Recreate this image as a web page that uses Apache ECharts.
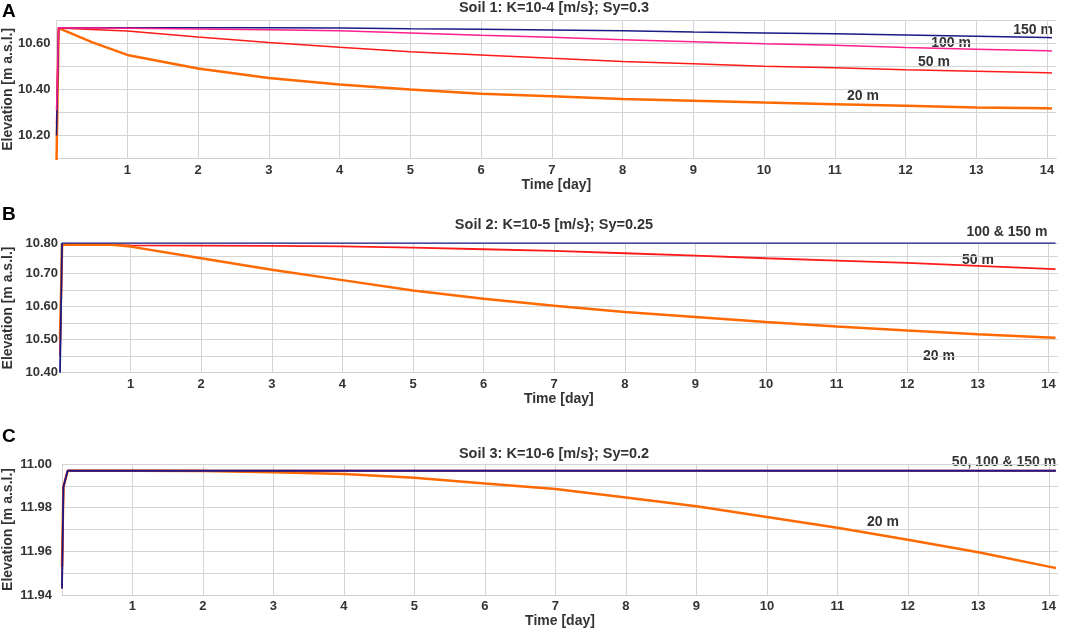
<!DOCTYPE html>
<html>
<head>
<meta charset="utf-8">
<title>Soil drawdown</title>
<script src="https://cdn.jsdelivr.net/npm/echarts@6/dist/echarts.min.js"></script>
<style>
html,body{margin:0;padding:0;background:#fff;}
#main{width:1065px;height:628px;}
</style>
</head>
<body>
<div id="main"></div>
<script>
// tick labels
var xTickLabels = ['', '1', '2', '3', '4', '5', '6', '7', '8', '9', '10', '11', '12', '13', '14'];
var yLabelsA = ['', '10.20', '', '10.40', '', '10.60', ''];
var yLabelsB = ['10.40', '', '10.50', '', '10.60', '', '10.70', '', '10.80'];
var yLabelsC = ['11.94', '', '11.96', '', '11.98', '', '11.00'];

// Soil 1
var timeA = [0, 0.03, 0.5, 1, 2, 3, 4, 5, 6, 7, 8, 9, 10, 11, 12, 13, 14, 14.07];
var a20 = [10.08, 10.665, 10.604, 10.549, 10.490, 10.449, 10.421, 10.399, 10.381, 10.370, 10.358, 10.351, 10.343, 10.336, 10.329, 10.322, 10.318, 10.317];
var a50 = [10.25, 10.665, 10.659, 10.652, 10.626, 10.603, 10.582, 10.563, 10.549, 10.534, 10.521, 10.511, 10.500, 10.493, 10.485, 10.478, 10.472, 10.471];
var a100 = [10.31, 10.666, 10.665, 10.664, 10.661, 10.658, 10.654, 10.644, 10.634, 10.625, 10.615, 10.606, 10.597, 10.591, 10.581, 10.574, 10.567, 10.566];
var a150 = [10.20, 10.667, 10.667, 10.667, 10.667, 10.666, 10.665, 10.662, 10.660, 10.657, 10.653, 10.648, 10.644, 10.640, 10.635, 10.630, 10.624, 10.623];

// Soil 2
var timeB = [0, 0.03, 0.7, 1, 2, 3, 4, 5, 6, 7, 8, 9, 10, 11, 12, 13, 14, 14.1];
var b20 = [10.50, 10.786, 10.786, 10.780, 10.745, 10.710, 10.679, 10.648, 10.623, 10.602, 10.583, 10.568, 10.553, 10.539, 10.527, 10.516, 10.506, 10.505];
var b50 = [10.45, 10.786, 10.785, 10.784, 10.783, 10.782, 10.781, 10.777, 10.772, 10.767, 10.760, 10.753, 10.745, 10.738, 10.731, 10.722, 10.713, 10.712];
var b150 = [10.40, 10.791, 10.791, 10.791, 10.791, 10.791, 10.791, 10.791, 10.791, 10.791, 10.791, 10.791, 10.791, 10.791, 10.791, 10.791, 10.791, 10.791];

// Soil 3
var timeC = [0, 0.02, 0.08, 1, 2, 3, 4, 5, 6, 7, 8, 9, 10, 11, 12, 13, 14, 14.1];
var c20 = [11.953, 11.9895, 11.9969, 11.9969, 11.9968, 11.9962, 11.9954, 11.9937, 11.9911, 11.9886, 11.9847, 11.9806, 11.9757, 11.9708, 11.9653, 11.9596, 11.9530, 11.9524];
var c150 = [11.943, 11.9895, 11.9969, 11.9969, 11.9969, 11.9969, 11.9969, 11.9969, 11.9969, 11.9969, 11.9969, 11.9969, 11.9969, 11.9969, 11.9969, 11.9969, 11.9969, 11.9969];

var NAVY = '#1b1b86', PINK = '#ff1f8e', RED = '#ff1a1a', ORANGE = '#ff6a00';
var TXT = '#333';
var FONT = 'Liberation Sans, Arial, sans-serif';

function pairs(t, v){
	var out = [];
	for(var i = 0;i<t.length;i++){
		out.push([t[i], v[i]]);
	}
	return out;
}

function xAxisFor(idx){
	return {
		type:'value', gridIndex:idx, min:0, max:14.13, interval:1,
		name:'Time [day]', nameLocation:'middle', nameGap:19, nameMoveOverlap:false,
		nameTextStyle:{color:TXT, fontWeight:'bold', fontSize:14, fontFamily:FONT},
		axisLine:{show:true, lineStyle:{color:'#cfcfcf'}},
		axisTick:{show:false},
		axisLabel:{
			margin:5, color:TXT, fontWeight:'bold', fontSize:13, fontFamily:FONT,
			formatter:function(v){
				if(Math.abs(v-Math.round(v))>1e-6) return '';
				return xTickLabels[Math.round(v)] || '';
			}
		},
		splitLine:{show:true, showMaxLine:false, lineStyle:{color:'#d4d4d4'}}
	};
}

function yAxisFor(idx, min, max, step, labels, margin, gap){
	return {
		type:'value', gridIndex:idx, min:min, max:max, interval:step,
		name:'Elevation [m a.s.l.]', nameLocation:'middle', nameGap:gap, nameRotate:90,
		nameMoveOverlap:false,
		nameTextStyle:{color:TXT, fontWeight:'bold', fontSize:14, fontFamily:FONT},
		axisLine:{show:false},
		axisTick:{show:false},
		axisLabel:{
			margin:margin, color:TXT, fontWeight:'bold', fontSize:13, fontFamily:FONT,
			formatter:function(v){
				return labels[Math.round((v-min)/step)] || '';
			}
		},
		splitLine:{show:true, lineStyle:{color:'#d4d4d4'}}
	};
}

function line(name, idx, t, v, color, width){
	return {
		name:name, type:'line', xAxisIndex:idx, yAxisIndex:idx,
		data:pairs(t, v), showSymbol:false, symbol:'none',
		lineStyle:{color:color, width:width}, itemStyle:{color:color}
	};
}

function label(text, x, y, size){
	return {
		type:'text', x:x, y:y,
		style:{text:text, fill:TXT, font:'bold ' + (size || 14) + 'px ' + FONT, align:'center', verticalAlign:'middle'}
	};
}

function letter(text, y){
	return {
		type:'text', x:2, y:y,
		style:{text:text, fill:'#000', font:'bold 19px ' + FONT, align:'left', verticalAlign:'middle'}
	};
}

function title(text, top){
	return {
		text:text, left:554, top:top, textAlign:'center', padding:0,
		textStyle:{color:TXT, fontWeight:'bold', fontSize:14.5, fontFamily:FONT}
	};
}

var mycharts = echarts.init(document.getElementById('main'));
var option = {
	animation:false,
	backgroundColor:'#fff',
	title:[
		title('Soil 1: K=10-4 [m/s}; Sy=0.3', 0),
		title('Soil 2: K=10-5 [m/s}; Sy=0.25', 217),
		title('Soil 3: K=10-6 [m/s}; Sy=0.2', 446)
	],
	grid:[
		{left:56.5, top:20, width:999.7, height:138.7, outerBoundsMode:'none'},
		{left:60, top:243.3, width:997.6, height:129.4, outerBoundsMode:'none'},
		{left:62, top:464, width:996, height:131, outerBoundsMode:'none'}
	],
	xAxis:[xAxisFor(0), xAxisFor(1), xAxisFor(2)],
	yAxis:[
		yAxisFor(0, 10.1, 10.7, 0.1, yLabelsA, 6, 41.5),
		yAxisFor(1, 10.4, 10.79, 0.05, yLabelsB, 2, 45),
		yAxisFor(2, 11.94, 12.0, 0.01, yLabelsC, 10, 47)
	],
	series:[
		line('20 m', 0, timeA, a20, ORANGE, 2.5),
		line('50 m', 0, timeA, a50, RED, 1.5),
		line('150 m', 0, timeA, a150, NAVY, 1.5),
		line('100 m', 0, timeA, a100, PINK, 1.5),

		line('50 m', 1, timeB, b50, RED, 1.8),
		line('20 m', 1, timeB, b20, ORANGE, 2.5),
		line('100 & 150 m', 1, timeB, b150, NAVY, 1.8),

		line('20 m', 2, timeC, c20, ORANGE, 2.5),
		line('50 m', 2, timeC, c150, RED, 1.8),
		line('50, 100 & 150 m', 2, timeC, c150, NAVY, 1.8)
	],
	graphic:[
		letter('A', 12),
		letter('B', 215),
		letter('C', 437),
		label('150 m', 1033, 30),
		label('100 m', 951, 43),
		label('50 m', 934, 62),
		label('20 m', 863, 96),
		label('100 & 150 m', 1007, 232),
		label('50 m', 978, 260),
		label('20 m', 939, 356),
		label('50, 100 & 150 m', 1004, 462),
		label('20 m', 883, 522)
	]
};
mycharts.setOption(option);
</script>
</body>
</html>
